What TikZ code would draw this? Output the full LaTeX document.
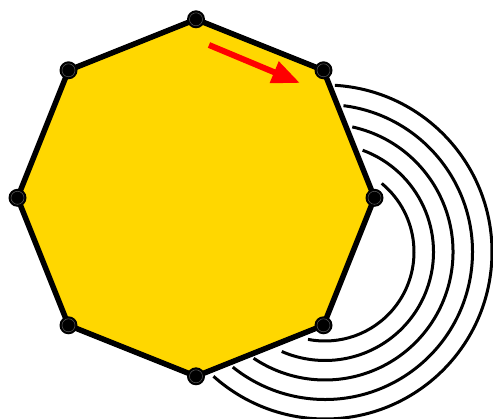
\documentclass[tikz,border=0pt]{standalone}
\usetikzlibrary{arrows.meta}
\definecolor{octgold}{RGB}{255,215,0}
\tikzset{
  octo/.style={fill=octgold, draw=black, line width=5.5, line join=round},
  vdot/.style={fill=black},
  vring/.style={draw=black!65, line width=0.5},
  ripple/.style={draw=black, line width=3},
  redarrow/.style={draw=red, line width=6, -{Triangle[length=28,width=22]}, red}
}
\begin{document}
\begin{tikzpicture}[x=1pt,y=1pt]
\useasboundingbox (0,0) rectangle (493,418);
\coordinate (v0) at (374.5,220.2);
\coordinate (v1) at (323.5,347.7);
\coordinate (v2) at (196,398.7);
\coordinate (v3) at (68.5,347.7);
\coordinate (v4) at (17.5,220.2);
\coordinate (v5) at (68.5,92.7);
\coordinate (v6) at (196,41.7);
\coordinate (v7) at (323.5,92.7);
\draw[octo] (v0) -- (v1) -- (v2) -- (v3) -- (v4) -- (v5) -- (v6) -- (v7) -- cycle;
\foreach \i in {0,...,7} {
  \fill[vdot] (v\i) circle (9);
  \draw[vring] (v\i) circle (6.5);
}
\coordinate (a) at (325,166);
\foreach \r/\s/\e in {167/86.6/-131.9, 147.5/82.8/-128.7, 128/77.7/-123.9, 108.5/69.7/-113.5, 89/50.4/-101} {
  \draw[ripple] ([shift={(325,166)}]\s:\r) arc[start angle=\s, end angle=\e, radius=\r];
}
\coordinate (t0) at (209,373);
\coordinate (t1) at (300,335);
\draw[redarrow] (t0) -- (t1);
\end{tikzpicture}
\end{document}
